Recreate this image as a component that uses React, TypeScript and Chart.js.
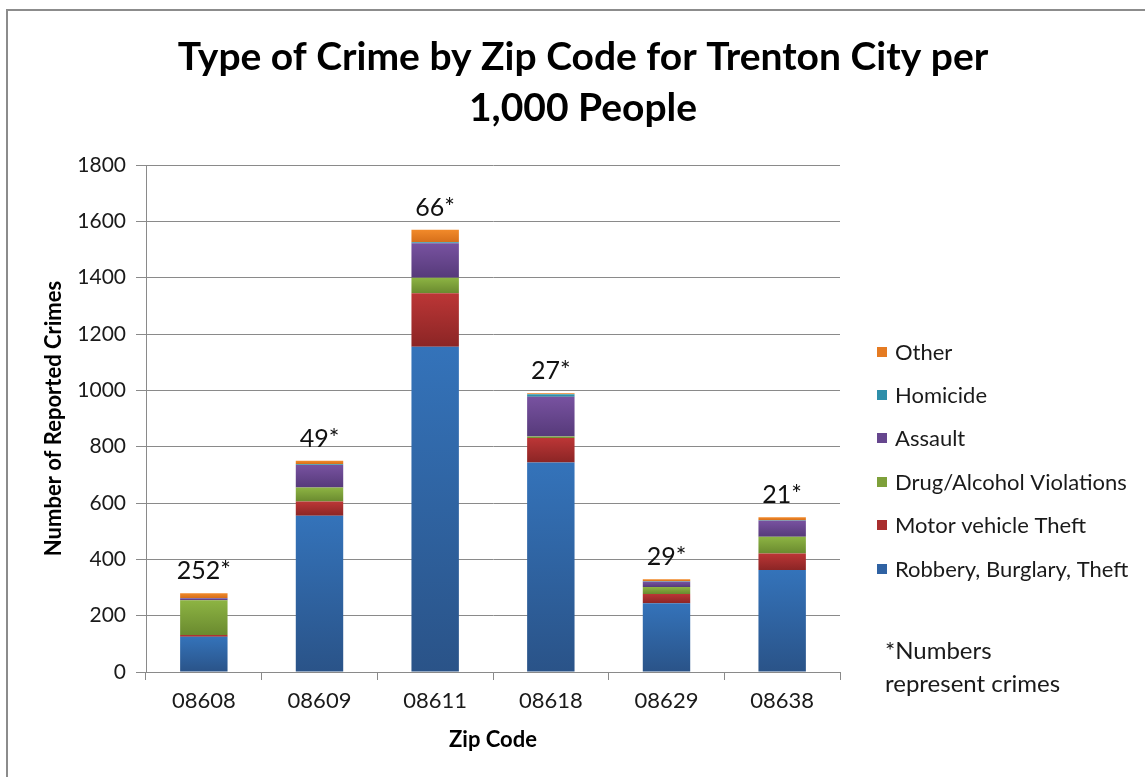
import React, { useEffect, useRef } from "react";
import { Chart, registerables } from "chart.js";

Chart.register(...registerables);

// ---- Data ----
const zipCodes = ["08608", "08609", "08611", "08618", "08629", "08638"];
const robberyBurglaryTheft = [125, 555, 1155, 744, 244, 362];
const motorVehicleTheft = [6, 50, 190, 87, 33, 59];
const drugAlcoholViolations = [124, 50, 55, 5, 25, 59];
const assault = [7, 80, 122, 141, 18, 57];
const homicide = [1, 3, 4, 9, 2, 2];
const other = [17, 12, 44, 4, 7, 10];
const crimeCountLabels = ["252*", "49*", "66*", "27*", "29*", "21*"];
const titleLines = ["Type of Crime by Zip Code for Trenton City per", "1,000 People"];
const footnoteLines = ["*Numbers", "represent crimes"];
const yMax = 1800;
const yStep = 200;

const FONT = "Lato, 'Open Sans', sans-serif";
const GRID = "#8a8a8a";

const series = [
  { label: "Robbery, Burglary, Theft", data: robberyBurglaryTheft, top: "#3473BA", bottom: "#2A5388", swatch: "#2F62A3" },
  { label: "Motor vehicle Theft", data: motorVehicleTheft, top: "#BC3636", bottom: "#8B2525", swatch: "#A82E2E" },
  { label: "Drug/Alcohol Violations", data: drugAlcoholViolations, top: "#8DB443", bottom: "#6A8A2F", swatch: "#7EA03A" },
  { label: "Assault", data: assault, top: "#7852A0", bottom: "#563A7A", swatch: "#66468E" },
  { label: "Homicide", data: homicide, top: "#35A0BD", bottom: "#2A7E96", swatch: "#2F8FAA" },
  { label: "Other", data: other, top: "#F28A2A", bottom: "#D66F1A", swatch: "#E57B22" },
];

function gradientFill(seriesIndex: number) {
  return (context: any) => {
    const s = series[seriesIndex];
    const chart = context.chart;
    const yScale = chart.scales?.y;
    if (context.type !== "data" || !yScale || !chart.chartArea) return s.top;
    const i = context.dataIndex;
    let start = 0;
    for (let k = 0; k < seriesIndex; k++) start += series[k].data[i];
    const end = start + s.data[i];
    const y0 = yScale.getPixelForValue(end);
    const y1 = yScale.getPixelForValue(start);
    if (!isFinite(y0) || !isFinite(y1) || y0 === y1) return s.top;
    const g = chart.ctx.createLinearGradient(0, y0, 0, y1);
    g.addColorStop(0, s.top);
    g.addColorStop(1, s.bottom);
    return g;
  };
}

const decorPlugin = {
  id: "decor",
  afterDraw(chart: any) {
    const ctx = chart.ctx as CanvasRenderingContext2D;
    ctx.save();
    // frame
    ctx.strokeStyle = "#8c8c8c";
    ctx.lineWidth = 2;
    ctx.strokeRect(7, 10, 1200, 800);

    // title
    ctx.fillStyle = "#000";
    ctx.textAlign = "center";
    ctx.textBaseline = "middle";
    ctx.font = `bold 39px ${FONT}`;
    ctx.fillText(titleLines[0], 583, 57);
    ctx.fillText(titleLines[1], 583, 108);

    // data labels above stacks
    const lastMeta = chart.getDatasetMeta(series.length - 1);
    ctx.font = `25px ${FONT}`;
    ctx.fillStyle = "#111";
    lastMeta.data.forEach((el: any, i: number) => {
      ctx.fillText(crimeCountLabels[i], el.x, el.y - 22);
    });

    // legend (reverse order)
    ctx.textAlign = "left";
    ctx.font = `22px ${FONT}`;
    const legendYs = [569, 525, 482, 438, 395, 352];
    series.forEach((s, i) => {
      const y = legendYs[i];
      ctx.fillStyle = s.swatch;
      ctx.fillRect(877, y - 5, 10, 10);
      ctx.fillStyle = "#1a1a1a";
      ctx.fillText(s.label, 895, y + 1);
    });

    // footnote
    ctx.font = `24px ${FONT}`;
    ctx.fillStyle = "#1a1a1a";
    ctx.fillText(footnoteLines[0], 885, 651);
    ctx.fillText(footnoteLines[1], 885, 684);
    ctx.restore();
  },
};

export default function App() {
  const canvasRef = useRef<HTMLCanvasElement | null>(null);

  useEffect(() => {
    const canvas = canvasRef.current;
    if (!canvas) return;
    const chart = new Chart(canvas, {
      type: "bar",
      data: {
        labels: zipCodes,
        datasets: series.map((s, idx) => ({
          label: s.label,
          data: s.data,
          backgroundColor: gradientFill(idx),
          borderWidth: 0,
          barPercentage: 0.41,
          categoryPercentage: 1,
        })),
      },
      options: {
        responsive: false,
        animation: false,
        layout: { padding: { left: 0, right: 305, top: 165, bottom: 0 } },
        plugins: {
          legend: { display: false },
          title: { display: false },
          tooltip: { enabled: false },
        },
        scales: {
          x: {
            stacked: true,
            grid: { drawOnChartArea: false, drawTicks: true, tickLength: 8, color: GRID, offset: true },
            border: { color: GRID, width: 1 },
            ticks: { font: { family: FONT, size: 22 }, color: "#1a1a1a", padding: 8, maxRotation: 0 },
            title: { display: true, text: "Zip Code", font: { family: FONT, size: 22, weight: "bold" }, color: "#000", padding: { top: 0, bottom: 24 } },
            afterFit: (s: any) => { s.height = 105; },
          },
          y: {
            stacked: true,
            min: 0,
            max: yMax,
            grid: { color: GRID, tickLength: 10, lineWidth: 1 },
            border: { color: GRID, width: 1 },
            ticks: { stepSize: yStep, font: { family: FONT, size: 21 }, color: "#1a1a1a", padding: 10, callback: (v: any) => String(v) },
            title: { display: true, text: "Number of Reported Crimes", font: { family: FONT, size: 22, weight: "bold" }, color: "#000", padding: { top: 41, bottom: 0 } },
            afterFit: (s: any) => { s.width = 146; },
          },
        },
      },
      plugins: [decorPlugin],
    } as any);
    return () => chart.destroy();
  }, []);

  return (
    <div style={{ position: "fixed", left: 0, top: 0, width: 1145, height: 777, background: "#fff", overflow: "hidden" }}>
      <canvas ref={canvasRef} width={1145} height={777} style={{ display: "block" }} />
    </div>
  );
}
